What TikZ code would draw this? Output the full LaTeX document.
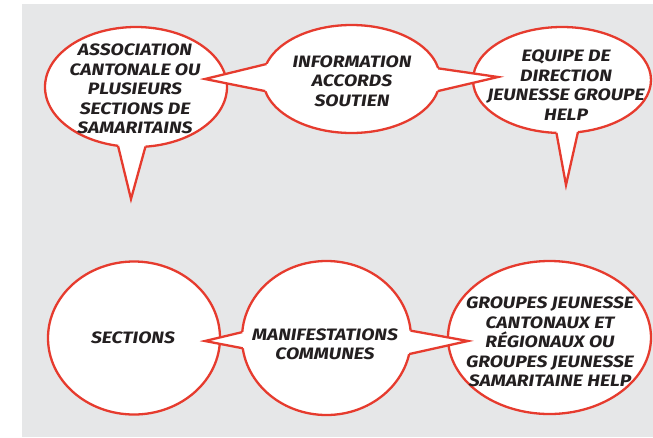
\documentclass[tikz,border=0pt]{standalone}
\usepackage{fontspec}
\setmainfont{Fira Sans}
\newfontfamily\comicfont[FakeStretch=1.17]{Fira Sans}
\usetikzlibrary{shapes.geometric}
\definecolor{bg}{HTML}{E6E7E8}
\definecolor{bred}{HTML}{E63B2E}
\definecolor{ink}{HTML}{231F20}
\tikzset{
 bubble/.style={ellipse, draw=bred, line width=2.3pt, fill=white, inner sep=0pt, outer sep=0pt},
 tailfill/.style={fill=white},
 tailline/.style={draw=bred, line width=2.3pt, line join=miter, miter limit=20},
 txt/.style={font=\comicfont\fontsize{16.5}{19.5}\selectfont\bfseries\itshape, text=ink, align=center, inner sep=0pt}
}
\begin{document}
\begin{tikzpicture}[x=1pt,y=-1pt]
\useasboundingbox (0,0) rectangle (653,437);
\fill[bg] (22,4) rectangle (653,437);

% top row
\node[bubble, minimum width=182pt, minimum height=120pt] (assoc) at (136,87) {};
\node[bubble, minimum width=178pt, minimum height=106pt] (equipe) at (562,80) {};
\node[bubble, minimum width=177pt, minimum height=108pt] (info) at (351.5,79) {};

\coordinate (assoctip) at (131,199);
\coordinate (equipetip) at (566,185);
\coordinate (infoleft) at (205,79);
\coordinate (inforight) at (498,77);

\fill[tailfill] (info.center) -- (info.170) -- (infoleft) -- (info.188) -- cycle;
\draw[tailline] (info.170) -- (infoleft) -- (info.188);
\fill[tailfill] (info.center) -- (info.7) -- (inforight) -- (info.-8) -- cycle;
\draw[tailline] (info.7) -- (inforight) -- (info.-8);
\fill[tailfill] (assoc.center) -- (assoc.253) -- (assoctip) -- (assoc.279) -- cycle;
\draw[tailline] (assoc.253) -- (assoctip) -- (assoc.279);
\fill[tailfill] (equipe.center) -- (equipe.264) -- (equipetip) -- (equipe.287) -- cycle;
\draw[tailline] (equipe.264) -- (equipetip) -- (equipe.287);

% bottom row
\node[bubble, minimum width=172pt, minimum height=153pt] (sections) at (134,338) {};
\node[bubble, minimum width=203pt, minimum height=153pt] (groupes) at (549.5,337.5) {};
\node[bubble, minimum width=169pt, minimum height=154pt] (manif) at (326.5,338) {};

\coordinate (manifleft) at (205,341);
\coordinate (manifright) at (468,341);
\fill[tailfill] (manif.center) -- (manif.176) -- (manifleft) -- (manif.187) -- cycle;
\draw[tailline] (manif.176) -- (manifleft) -- (manif.187);
\fill[tailfill] (manif.center) -- (manif.5) -- (manifright) -- (manif.-11) -- cycle;
\draw[tailline] (manif.5) -- (manifright) -- (manif.-11);

% texts
\node[txt] (t1) at (135,89) {ASSOCIATION\\CANTONALE OU\\PLUSIEURS\\SECTIONS DE\\SAMARITAINS};
\node[txt] (t2) at (352,81) {INFORMATION\\ACCORDS\\SOUTIEN};
\node[txt] (t3) at (566,85) {EQUIPE DE\\DIRECTION\\JEUNESSE GROUPE\\HELP};
\node[txt] (t4) at (133,338) {SECTIONS};
\node[txt] (t5) at (325,344.5) {MANIFESTATIONS\\COMMUNES};
\node[txt] (t6) at (550,342) {GROUPES JEUNESSE\\CANTONAUX ET\\RÉGIONAUX OU\\GROUPES JEUNESSE\\SAMARITAINE HELP};
\end{tikzpicture}
\end{document}
